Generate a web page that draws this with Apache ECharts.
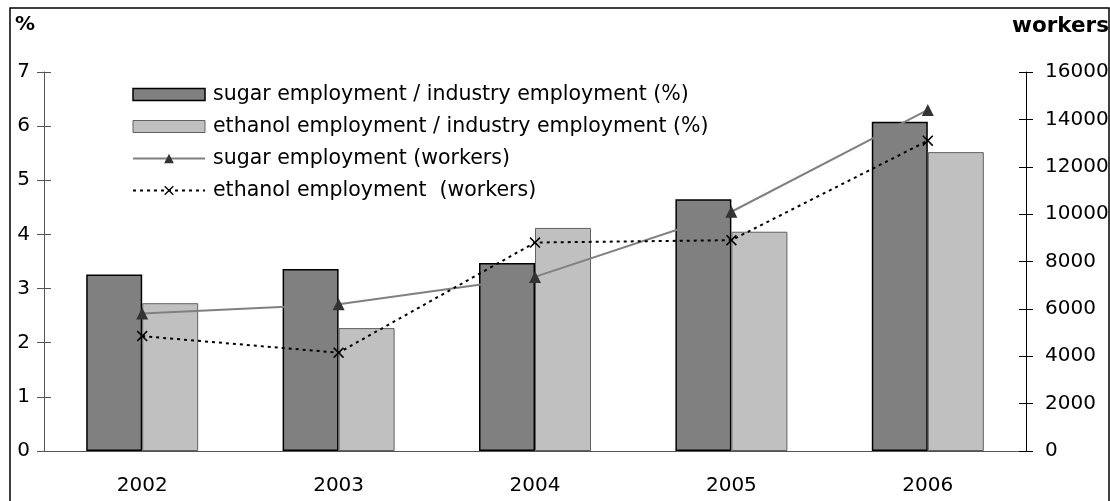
<!DOCTYPE html>
<html>
<head>
<meta charset="utf-8">
<script src="https://cdn.jsdelivr.net/npm/echarts@6/dist/echarts.min.js"></script>
<style>
  html, body { margin: 0; padding: 0; background: #fff; }
  #chart { width: 1110px; height: 501px; }
</style>
</head>
<body>
<div id="chart"></div>
<script>
// Years on the category axis
const years = ['2002', '2003', '2004', '2005', '2006'];

// Share of industry employment (%), left axis
const sugarPct = [3.26, 3.36, 3.47, 4.65, 6.08];
const ethanolPct = [2.73, 2.27, 4.12, 4.05, 5.52];

// Number of workers, right axis
const sugarWorkers = [5800, 6200, 7350, 10100, 14400];
const ethanolWorkers = [4850, 4150, 8800, 8900, 13100];

// Axis ranges
const pctMax = 7, pctStep = 1;
const workersMax = 16000, workersStep = 2000;

const seriesNames = [
  'sugar employment / industry employment (%)',
  'ethanol employment / industry employment (%)',
  'sugar employment (workers)',
  'ethanol employment  (workers)'
];

// Filled "x" cross used as the ethanol marker
const crossPath = 'path://M0,1L1,0L5,4L9,0L10,1L6,5L10,9L9,10L5,6L1,10L0,9L4,5Z';

const FONT = 'DejaVu Sans';
const plotBox = { left: 44, right: 84, top: 72, bottom: 50, containLabel: false, outerBoundsMode: 'none' };

const chart = echarts.init(document.getElementById('chart'), null, { renderer: 'canvas' });

// Value axis; the "inside" copies sit in a second, identical grid so that
// every tick crosses its axis line.
const valueAxis = (gridIndex, max, step, pos, inside, lineColor, labelMargin) => ({
  type: 'value',
  gridIndex: gridIndex,
  min: 0,
  max: max,
  interval: step,
  position: pos,
  axisLine: { show: !inside, lineStyle: { color: lineColor, width: 1 } },
  axisTick: { show: true, inside: inside, length: 7, lineStyle: { color: lineColor, width: 1 } },
  axisLabel: {
    show: !inside,
    color: '#000',
    fontSize: 20,
    fontFamily: FONT,
    margin: labelMargin,
    formatter: (v) => String(v)
  },
  splitLine: { show: false }
});

chart.setOption({
  animation: false,
  backgroundColor: '#fff',
  textStyle: { fontFamily: FONT },
  grid: [Object.assign({}, plotBox), Object.assign({}, plotBox)],
  legend: {
    orient: 'vertical',
    left: 127,
    top: 79,
    itemWidth: 72,
    itemHeight: 12,
    itemGap: 11,
    textStyle: { fontSize: 20.5, color: '#000', fontFamily: FONT, lineHeight: 20, padding: [0, 0, 0, 3] },
    data: [
      { name: seriesNames[0], icon: 'rect', itemStyle: { color: '#808080', borderColor: '#000', borderWidth: 1.5 } },
      { name: seriesNames[1], icon: 'rect', itemStyle: { color: '#c0c0c0', borderColor: '#606060', borderWidth: 1 } },
      { name: seriesNames[2] },
      { name: seriesNames[3] }
    ]
  },
  xAxis: [
    {
      type: 'category',
      gridIndex: 0,
      data: years,
      axisLine: { show: true, lineStyle: { color: '#555', width: 1 } },
      axisTick: { show: false },
      axisLabel: { color: '#000', fontSize: 20, fontFamily: FONT, margin: 25 },
      splitLine: { show: false }
    },
    {
      type: 'category',
      gridIndex: 1,
      data: years,
      show: false
    }
  ],
  yAxis: [
    valueAxis(0, pctMax, pctStep, 'left', false, '#555', 14),
    valueAxis(0, workersMax, workersStep, 'right', false, '#000', 19),
    valueAxis(1, pctMax, pctStep, 'left', true, '#555', 14),
    valueAxis(1, workersMax, workersStep, 'right', true, '#000', 19)
  ],
  series: [
    {
      name: seriesNames[0],
      type: 'bar',
      xAxisIndex: 0,
      yAxisIndex: 0,
      data: sugarPct,
      barWidth: 56,
      barGap: '0%',
      itemStyle: { color: '#808080', borderColor: '#000', borderWidth: 1.5 },
      z: 2
    },
    {
      name: seriesNames[1],
      type: 'bar',
      xAxisIndex: 0,
      yAxisIndex: 0,
      data: ethanolPct,
      barWidth: 56,
      barGap: '0%',
      itemStyle: { color: '#c0c0c0', borderColor: '#606060', borderWidth: 1 },
      z: 2
    },
    {
      name: seriesNames[2],
      type: 'line',
      xAxisIndex: 0,
      yAxisIndex: 1,
      data: sugarWorkers,
      symbol: 'triangle',
      symbolSize: [12, 12],
      itemStyle: { color: '#333' },
      lineStyle: { color: '#808080', width: 2 },
      z: 4
    },
    {
      name: seriesNames[3],
      type: 'line',
      xAxisIndex: 0,
      yAxisIndex: 1,
      data: ethanolWorkers,
      symbol: crossPath,
      symbolSize: 11,
      itemStyle: { color: '#000' },
      lineStyle: { color: '#000', width: 2, type: [3, 4] },
      z: 5
    }
  ],
  graphic: [
    {
      type: 'rect',
      shape: { x: 10, y: 8, width: 1099, height: 500 },
      style: { fill: 'none', stroke: '#000', lineWidth: 1.5 },
      silent: true
    },
    {
      type: 'text',
      left: 15,
      top: 15,
      style: { text: '%', fontSize: 20, fontWeight: 'bold', fontFamily: FONT, fill: '#000' }
    },
    {
      type: 'text',
      right: 1,
      top: 15,
      style: { text: 'workers', fontSize: 21.5, fontWeight: 'bold', fontFamily: FONT, fill: '#000' }
    }
  ]
});
</script>
</body>
</html>
